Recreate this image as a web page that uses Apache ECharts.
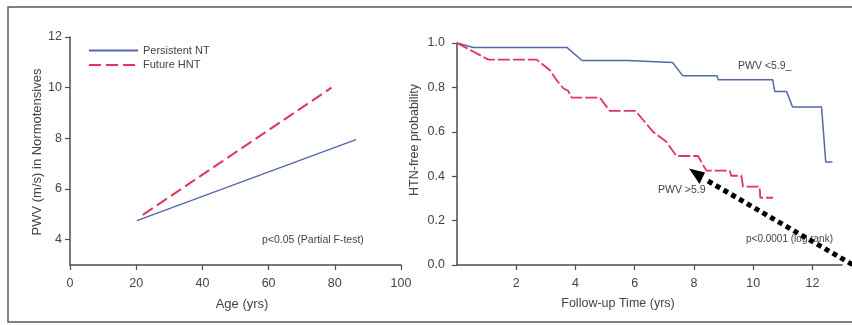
<!DOCTYPE html>
<html><head><meta charset="utf-8">
<script src="https://cdn.jsdelivr.net/npm/echarts@6/dist/echarts.min.js"></script>
<style>html,body{margin:0;padding:0;background:#fff}#c{width:852px;height:325px}</style>
</head><body><div id="c"></div>
<script>
// ---- Left panel: PWV vs Age regression lines ----
const ageNT = [20.2, 86.4];
const pwvNT = [4.75, 7.95];
const ageHNT = [22, 79];
const pwvHNT = [4.98, 10.0];
const ageTicks = [0, 20, 40, 60, 80, 100];
const pwvTicks = [4, 6, 8, 10, 12];
// ---- Right panel: Kaplan-Meier curves ----
const kmLowT = [0, 0.55, 3.71, 4.22, 5.75, 5.80, 7.28, 7.62, 8.78, 8.82, 10.66, 10.73, 11.13, 11.33, 12.31, 12.45, 12.68];
const kmLowS = [1.0, 0.98, 0.98, 0.921, 0.921, 0.912, 0.912, 0.853, 0.853, 0.834, 0.834, 0.781, 0.781, 0.712, 0.712, 0.464, 0.464];
const kmHighT = [0, 1.06, 2.69, 3.14, 3.36, 3.59, 3.75, 3.87, 4.82, 5.16, 6.03, 6.62, 7.07, 7.41, 8.14, 8.42, 9.21, 9.26, 9.60, 9.66, 10.22, 10.24, 10.67];
const kmHighS = [1.0, 0.925, 0.925, 0.877, 0.833, 0.796, 0.785, 0.754, 0.754, 0.694, 0.694, 0.600, 0.555, 0.491, 0.491, 0.425, 0.425, 0.402, 0.402, 0.353, 0.353, 0.303, 0.303];
const timeTicks = [2, 4, 6, 8, 10, 12];
const probTicks = [0, 0.2, 0.4, 0.6, 0.8, 1.0];

const FONT = 'Liberation Sans, Arial, sans-serif';
const AX = '#4d4d4d';
const BLUE = '#5667ad';
const RED = '#e3345f';
const zip = (a, b) => a.map((v, i) => [v, b[i]]);

const axisCommon = {
  axisLine: {show: true, lineStyle: {color: AX, width: 1.5}},
  axisTick: {show: true, length: 5, lineStyle: {color: AX, width: 1.2}},
  splitLine: {show: false},
  axisLabel: {color: '#444', fontFamily: FONT, fontSize: 12.5}
};

const chart = echarts.init(document.getElementById('c'), null, {renderer: 'canvas'});
chart.setOption({
  animation: false,
  backgroundColor: '#fff',
  textStyle: {fontFamily: FONT},
  grid: [
    {left: 70, top: 37, width: 331, height: 228},
    {left: 457, top: 43, width: 385, height: 222}
  ],
  legend: {
    data: ['Persistent NT', 'Future HNT'],
    orient: 'vertical', left: 88, top: 45, padding: 0,
    itemWidth: 49, itemHeight: 8, itemGap: 3.5,
    itemStyle: {opacity: 0},
    textStyle: {fontSize: 11, color: '#444', fontFamily: FONT}
  },
  xAxis: [
    Object.assign({}, axisCommon, {gridIndex: 0, type: 'value', min: 0, max: 100, interval: 20,
      axisLabel: Object.assign({}, axisCommon.axisLabel, {margin: 12})}),
    Object.assign({}, axisCommon, {gridIndex: 1, type: 'value', min: 0, max: 13,
      axisTick: Object.assign({}, axisCommon.axisTick, {customValues: timeTicks}),
      axisLabel: Object.assign({}, axisCommon.axisLabel, {customValues: timeTicks, margin: 12})})
  ],
  yAxis: [
    Object.assign({}, axisCommon, {gridIndex: 0, type: 'value', min: 3, max: 12,
      axisTick: Object.assign({}, axisCommon.axisTick, {customValues: pwvTicks}),
      axisLabel: Object.assign({}, axisCommon.axisLabel, {customValues: pwvTicks, margin: 8})}),
    Object.assign({}, axisCommon, {gridIndex: 1, type: 'value', min: 0, max: 1, interval: 0.2,
      axisLabel: Object.assign({}, axisCommon.axisLabel, {margin: 12, formatter: v => v.toFixed(1)})})
  ],
  series: [
    {name: 'Persistent NT', type: 'line', xAxisIndex: 0, yAxisIndex: 0, symbol: 'none',
     data: zip(ageNT, pwvNT), lineStyle: {color: BLUE, width: 1.5}, itemStyle: {color: BLUE}},
    {name: 'Future HNT', type: 'line', xAxisIndex: 0, yAxisIndex: 0, symbol: 'none',
     data: zip(ageHNT, pwvHNT), lineStyle: {color: RED, width: 2, type: [12, 5]}, itemStyle: {color: RED}},
    {name: 'PWV <5.9', type: 'line', xAxisIndex: 1, yAxisIndex: 1, symbol: 'none',
     data: zip(kmLowT, kmLowS), lineStyle: {color: BLUE, width: 1.5}},
    {name: 'PWV >5.9', type: 'line', xAxisIndex: 1, yAxisIndex: 1, symbol: 'none',
     data: zip(kmHighT, kmHighS), lineStyle: {color: RED, width: 1.8, type: [12, 3]}}
  ],
  graphic: [
    {type: 'rect', shape: {x: 8, y: 7, width: 860, height: 315}, style: {fill: 'none', stroke: '#5a5a5a', lineWidth: 1.5}, silent: true},
    {type: 'text', x: 242, y: 304, style: {text: 'Age (yrs)', font: '13px ' + FONT, fill: '#444', align: 'center', verticalAlign: 'middle'}},
    {type: 'text', x: 37, y: 152, rotation: Math.PI / 2, style: {text: 'PWV (m/s) in Normotensives', font: '13px ' + FONT, fill: '#444', align: 'center', verticalAlign: 'middle'}},
    {type: 'text', x: 618, y: 304, style: {text: 'Follow-up Time (yrs)', font: '12.5px ' + FONT, fill: '#444', align: 'center', verticalAlign: 'middle'}},
    {type: 'text', x: 415, y: 140, rotation: Math.PI / 2, style: {text: 'HTN-free probability', font: '12.5px ' + FONT, fill: '#444', align: 'center', verticalAlign: 'middle'}},
    {type: 'text', x: 262, y: 240, style: {text: 'p<0.05 (Partial F-test)', font: '10.5px ' + FONT, fill: '#444', verticalAlign: 'middle'}},
    {type: 'text', x: 738, y: 66, style: {text: 'PWV <5.9_', font: '10.5px ' + FONT, fill: '#444', verticalAlign: 'middle'}},
    {type: 'text', x: 658, y: 190, style: {text: 'PWV >5.9', font: '10.5px ' + FONT, fill: '#444', verticalAlign: 'middle'}},
    {type: 'text', x: 746, y: 239, style: {text: 'p<0.0001 (log rank)', font: '10px ' + FONT, fill: '#444', verticalAlign: 'middle'}},
    {type: 'line', shape: {x1: 708, y1: 181, x2: 860, y2: 269}, style: {stroke: '#000', lineWidth: 5, lineDash: [5, 4], lineCap: 'butt'}, z: 100},
    {type: 'polygon', shape: {points: [[689, 168.5], [705, 172.5], [699.5, 184]]}, style: {fill: '#000'}, z: 100}
  ]
});
</script></body></html>
